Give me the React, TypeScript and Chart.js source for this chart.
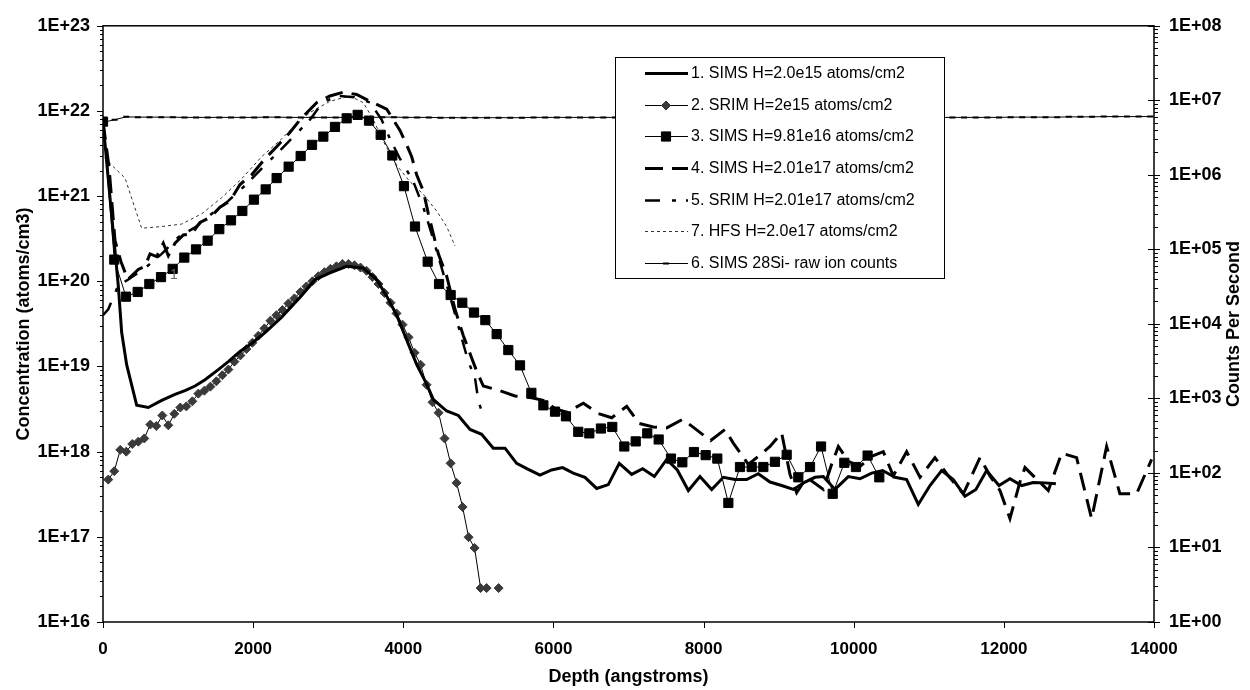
import React, { useEffect, useRef } from 'react';
import { Chart, registerables } from 'chart.js';

Chart.register(...registerables);

// ---------------- DATA ----------------
// 1. SIMS H=2.0e15 atoms/cm2
const DEPTH_S1 = [0, 100, 204, 249, 315, 449, 604, 782, 959, 1092, 1226, 1359, 1536, 1669, 1825, 1980, 2158, 2380, 2647, 2824,
  3024, 3246, 3468, 3646, 3779, 3912, 4045, 4179, 4311, 4400, 4578, 4733, 4889, 5044, 5199, 5355, 5510, 5665, 5821, 5976,
  6122, 6264, 6420, 6576, 6731, 6877, 7042, 7189, 7344, 7509, 7650, 7797, 7952, 8108, 8263, 8419, 8574, 8729, 8885, 9040,
  9195, 9351, 9484, 9595, 9751, 9928, 10084, 10239, 10385, 10550, 10705, 10860, 11016, 11171, 11326, 11482, 11628, 11770, 11935, 12081,
  12237, 12392, 12547, 12693];
const CONC_S1 = [7.5e21, 8.3e20, 8.8e19, 2.5e19, 1.05e19, 3.5e18, 3.3e18, 4.0e18, 4.7e18, 5.2e18, 5.9e18, 7.0e18, 9.2e18, 1.14e19, 1.5e19, 1.86e19, 2.5e19, 3.8e19, 6.8e19, 1.05e20,
  1.26e20, 1.5e20, 1.43e20, 1.05e20, 6.7e19, 4.0e19, 2.05e19, 1.05e19, 6.2e18, 4.1e18, 3.0e18, 2.66e18, 1.82e18, 1.6e18, 1.1e18, 1.1e18, 7.3e17, 6.2e17, 5.3e17, 6.1e17,
  6.5e17, 5.6e17, 5.0e17, 3.7e17, 4.1e17, 7.3e17, 5.4e17, 6.3e17, 5.1e17, 8.1e17, 6.1e17, 3.5e17, 5.1e17, 3.6e17, 5.0e17, 4.7e17, 4.7e17, 5.5e17, 4.4e17, 4.0e17,
  3.6e17, 4.4e17, 5.0e17, 5.1e17, 3.6e17, 5.1e17, 4.8e17, 5.6e17, 6.0e17, 5.0e17, 4.7e17, 2.4e17, 4.0e17, 6.0e17, 4.7e17, 3.0e17, 3.6e17, 6.0e17, 4.0e17, 4.8e17,
  4.0e17, 4.35e17, 4.3e17, 4.2e17];

// 2. SRIM H=2e15 atoms/cm2
const DEPTH_S2 = [70, 150, 230, 310, 390, 470, 550, 630, 710, 790,
  870, 950, 1030, 1110, 1190, 1270, 1350, 1430, 1510, 1590,
  1670, 1750, 1830, 1910, 1990, 2070, 2150, 2230, 2310, 2390,
  2470, 2550, 2630, 2710, 2790, 2870, 2950, 3030, 3110, 3190,
  3270, 3350, 3430, 3510, 3590, 3670, 3750, 3830, 3910, 3990,
  4070, 4150, 4230, 4310, 4390, 4470, 4550, 4630, 4710, 4790,
  4870, 4950, 5030, 5110, 5190, 5270];
const CONC_S2 = [4.7e17, 5.9e17, 1.05e18, 1.0e18, 1.23e18, 1.31e18, 1.43e18, 2.08e18, 2.0e18, 2.66e18,
  2.04e18, 2.78e18, 3.3e18, 3.4e18, 3.9e18, 4.8e18, 5.2e18, 5.8e18, 6.7e18, 7.9e18,
  9.2e18, 1.14e19, 1.35e19, 1.6e19, 1.9e19, 2.3e19, 2.8e19, 3.45e19, 4.0e19, 4.6e19,
  5.5e19, 6.3e19, 7.5e19, 8.7e19, 1.0e20, 1.15e20, 1.28e20, 1.4e20, 1.5e20, 1.6e20,
  1.6e20, 1.54e20, 1.45e20, 1.33e20, 1.12e20, 9.3e19, 7.3e19, 5.6e19, 4.2e19, 3.1e19,
  2.2e19, 1.45e19, 1.05e19, 6.1e18, 3.8e18, 2.86e18, 1.43e18, 7.3e17, 4.3e17, 2.24e17,
  9.9e16, 7.4e16, 2.5e16, 2.5e16, null, 2.5e16];

// 3. SIMS H=9.81e16 atoms/cm2
const DEPTH_S3 = [0, 150, 306, 462, 617, 773, 928, 1083, 1239, 1394, 1549, 1705, 1856, 2011, 2167, 2313, 2473, 2633, 2784, 2935,
  3090, 3246, 3392, 3543, 3699, 3854, 4009, 4156, 4325, 4476, 4631, 4786, 4942, 5093, 5244, 5399, 5555, 5706, 5866, 6021,
  6167, 6331, 6478, 6633, 6784, 6944, 7096, 7250, 7402, 7566, 7717, 7872, 8028, 8183, 8330, 8485, 8641, 8796, 8951, 9107,
  9262, 9418, 9565, 9720, 9875, 10030, 10185, 10341];
const CONC_S3 = [7.5e21, 1.8e20, 6.6e19, 7.5e19, 9.3e19, 1.12e20, 1.4e20, 1.9e20, 2.37e20, 3.0e20, 4.1e20, 5.2e20, 6.7e20, 9.1e20, 1.2e21, 1.63e21, 2.22e21, 2.96e21, 4.0e21, 5.0e21,
  6.5e21, 8.2e21, 9.0e21, 7.7e21, 5.25e21, 3.0e21, 1.31e21, 4.4e20, 1.7e20, 9.3e19, 6.9e19, 5.6e19, 4.3e19, 3.5e19, 2.4e19, 1.56e19, 1.03e19, 4.9e18, 3.5e18, 2.95e18,
  2.6e18, 1.71e18, 1.64e18, 1.87e18, 1.95e18, 1.15e18, 1.32e18, 1.64e18, 1.39e18, 8.3e17, 7.5e17, 9.9e17, 9.1e17, 8.3e17, 2.5e17, 6.6e17, 6.6e17, 6.6e17, 7.6e17, 9.2e17,
  5.0e17, 6.6e17, 1.15e18, 3.2e17, 7.4e17, 6.6e17, 9.0e17, 5.0e17];

// 4. SIMS H=2.01e17 atoms/cm2
const DEPTH_S4 = [0, 80, 160, 240, 330, 470, 560, 626, 715, 803, 870, 959, 1070, 1181, 1292, 1425, 1558, 1692, 1825, 1980,
  2158, 2313, 2490, 2624, 2846, 3024, 3201, 3379, 3556, 3779, 3867, 3956, 4045, 4112, 4178, 4267, 4334, 4400, 4467, 4578,
  4689, 4800, 4911, 4978, 5066, 5288, 5488, 5710, 5865, 6021, 6176, 6398, 6598, 6776, 6976, 7144, 7330, 7509, 7722, 7908,
  8094, 8285, 8396, 8476, 8596, 8729, 8885, 9040, 9151, 9240, 9373, 9595, 9706, 9795, 9928, 10084, 10239, 10394, 10527, 10705,
  10883, 11082, 11260, 11460, 11682, 11815, 11948, 12081, 12214, 12281, 12437, 12592, 12770, 12969, 13169, 13369, 13546, 13768, 13968];
const CONC_S4 = [7.5e21, 2.2e21, 3.0e20, 1.7e20, 1.05e20, 1.38e20, 1.5e20, 2.1e20, 1.95e20, 2.8e20, 2.0e20, 2.8e20, 3.5e20, 3.6e20, 4.9e20, 5.6e20, 7.4e20, 8.8e20, 1.37e21, 1.78e21,
  2.75e21, 3.8e21, 5.6e21, 7.9e21, 1.25e22, 1.5e22, 1.66e22, 1.56e22, 1.3e22, 1.05e22, 7.9e21, 5.9e21, 4.0e21, 2.9e21, 1.78e21, 1.15e21, 6.2e20, 3.6e20, 2.1e20, 1.15e20,
  4.7e19, 2.3e19, 1.26e19, 8.8e18, 5.9e18, 5.2e18, 4.5e18, 4.3e18, 4.0e18, 3.2e18, 2.9e18, 3.7e18, 2.8e18, 2.5e18, 3.4e18, 2.14e18, 1.95e18, 1.9e18, 2.4e18, 1.8e18,
  1.35e18, 1.82e18, 1.26e18, 1.0e18, 7.1e17, 8.8e17, 1.15e18, 1.66e18, 5.4e17, 3.3e17, 5.0e17, 3.6e17, 7.1e17, 1.15e18, 7.7e17, 6.7e17, 8.8e17, 1.0e18, 5.2e17, 1.0e18,
  5.0e17, 8.5e17, 5.2e17, 3.2e17, 8.5e17, 5.2e17, 3.5e17, 1.64e17, 4.4e17, 6.5e17, 4.75e17, 3.5e17, 9.6e17, 8.5e17, 1.64e17, 1.15e18, 3.2e17, 3.2e17, 8.1e17];

// 5. SRIM H=2.01e17 atoms/cm2
const DEPTH_S5 = [0, 70, 200, 337, 560, 782, 1003, 1226, 1448, 1669, 1891, 2113, 2380, 2757, 2930, 3150, 3350, 3556, 3712, 3823,
  3956, 4134, 4267, 4378, 4467, 4622, 4733, 4866, 4955, 4999, 5066];
const CONC_S5 = [4.0e19, 4.7e19, 8.8e19, 1.05e20, 1.43e20, 2.1e20, 3.3e20, 4.3e20, 6.2e20, 8.8e20, 1.33e21, 2.1e21, 3.6e21, 7.9e21, 1.28e22, 1.5e22, 1.45e22, 1.26e22, 7.9e21, 4.7e21,
  2.75e21, 1.48e21, 7.4e20, 3.6e20, 1.95e20, 6.7e19, 3.0e19, 1.14e19, 7.4e18, 4.0e18, 2.57e18];

// 7. HFS H=2.0e17 atoms/cm2
const DEPTH_S7 = [20, 293, 515, 782, 1048, 1315, 1581, 1847, 2113, 2380, 2513, 2757, 3024, 3290, 3468, 3601, 3734, 3912, 4089, 4267,
  4444, 4578, 4689];
const CONC_S7 = [2.8e21, 1.63e21, 4.2e20, 4.4e20, 4.7e20, 6.2e20, 9.6e20, 1.6e21, 2.9e21, 4.7e21, 6.2e21, 9.6e21, 1.3e22, 1.5e22, 1.25e22, 7.9e21, 4.4e21, 2.3e21, 1.48e21, 1.05e21,
  6.7e20, 4.4e20, 2.6e20];

// 6. SIMS 28Si- raw ion counts (right axis, counts per second)
const DEPTH_S6 = [0, 155, 310, 465, 620, 775, 930, 1085, 1240, 1395, 1550, 1705, 1860, 2015, 2170, 2325, 2480, 2635, 2790, 2945,
  3100, 3255, 3410, 3565, 3720, 3875, 4030, 4185, 4340, 4495, 4650, 4805, 4960, 5115, 5270, 5425, 5580, 5735, 5890, 6045,
  6200, 6355, 6510, 6665, 6820, 6975, 7130, 7285, 7440, 7595, 7750, 7905, 8060, 8215, 8370, 8525, 8680, 8835, 8990, 9145,
  9300, 9455, 9610, 9765, 9920, 10075, 10230, 10385, 10540, 10695, 10850, 11005, 11160, 11315, 11470, 11625, 11780, 11935, 12090, 12245,
  12400, 12555, 12710, 12865, 13020, 13175, 13330, 13485, 13640, 13795, 13950];
const CPS_S6 = [5.05e6, 5.5e6, 6.0e6, 5.95e6, 5.95e6, 5.95e6, 5.95e6, 5.9e6, 5.9e6, 5.9e6, 5.9e6, 5.9e6, 5.9e6, 5.9e6, 5.95e6, 5.95e6, 5.9e6, 5.9e6, 5.9e6, 5.9e6,
  5.9e6, 5.9e6, 5.9e6, 5.9e6, 5.95e6, 5.95e6, 5.9e6, 5.9e6, 5.9e6, 5.85e6, 5.85e6, 5.85e6, 5.85e6, 5.85e6, 5.85e6, 5.85e6, 5.85e6, 5.9e6, 5.9e6, 5.9e6,
  5.9e6, 5.9e6, 5.9e6, 5.9e6, 5.9e6, 5.9e6, 5.9e6, 5.9e6, 5.9e6, 5.9e6, 5.9e6, 5.9e6, 5.9e6, 5.9e6, 5.9e6, 5.9e6, 5.9e6, 5.9e6, 5.9e6, 5.9e6,
  5.9e6, 5.9e6, 5.9e6, 5.9e6, 5.9e6, 5.9e6, 5.9e6, 5.9e6, 5.9e6, 5.9e6, 5.9e6, 5.9e6, 5.9e6, 5.9e6, 5.9e6, 5.9e6, 5.9e6, 5.9e6, 5.95e6, 5.95e6,
  5.95e6, 5.95e6, 5.95e6, 6.0e6, 6.0e6, 6.0e6, 6.05e6, 6.05e6, 6.05e6, 6.05e6, 6.05e6];

const LABELS = [
  '1. SIMS H=2.0e15 atoms/cm2',
  '2. SRIM H=2e15 atoms/cm2',
  '3. SIMS H=9.81e16 atoms/cm2',
  '4. SIMS H=2.01e17 atoms/cm2',
  '5. SRIM H=2.01e17 atoms/cm2',
  '7. HFS H=2.0e17 atoms/cm2',
  '6. SIMS 28Si- raw ion counts',
];

const X_TICKS = [0, 2000, 4000, 6000, 8000, 10000, 12000, 14000];
const Y_DECADES = [1e16, 1e17, 1e18, 1e19, 1e20, 1e21, 1e22, 1e23];
const Y2_DECADES = [1, 1e1, 1e2, 1e3, 1e4, 1e5, 1e6, 1e7, 1e8];
const MINOR = [2, 3, 4, 5, 6, 7, 8, 9];

const X_TITLE = 'Depth (angstroms)';
const Y_TITLE = 'Concentration (atoms/cm3)';
const Y2_TITLE = 'Counts Per Second';

// stray data label near series 3
const NOTE = { depth: 773, conc: 1.12e20, text: '1' };

const FONT = '"Liberation Sans", Arial, Helvetica, sans-serif';

const pts = (xs: number[], ys: (number | null)[]) => xs.map((x, i) => ({ x, y: ys[i] }));
const sciLabel = (v: number) => {
  const e = Math.round(Math.log10(v));
  return '1E+' + String(e).padStart(2, '0');
};

const decorPlugin = {
  id: 'decor',
  afterDraw(chart: any) {
    const { ctx, chartArea: a, scales } = chart;
    const xs = scales.x, ys = scales.y, ys2 = scales.y2;
    ctx.save();
    ctx.strokeStyle = '#000';
    ctx.lineWidth = 1.5;
    ctx.setLineDash([]);
    ctx.strokeRect(a.left, a.top, a.right - a.left, a.bottom - a.top);

    ctx.lineWidth = 1;
    ctx.beginPath();
    Y_DECADES.forEach((d, i) => {
      const y = Math.round(ys.getPixelForValue(d)) + 0.5;
      ctx.moveTo(a.left - 6, y); ctx.lineTo(a.left, y);
      if (i < Y_DECADES.length - 1) {
        MINOR.forEach((m) => {
          const yy = Math.round(ys.getPixelForValue(d * m)) + 0.5;
          ctx.moveTo(a.left - 3, yy); ctx.lineTo(a.left, yy);
        });
      }
    });
    Y2_DECADES.forEach((d, i) => {
      const y = Math.round(ys2.getPixelForValue(d)) + 0.5;
      ctx.moveTo(a.right - 6, y); ctx.lineTo(a.right + 6, y);
      if (i < Y2_DECADES.length - 1) {
        MINOR.forEach((m) => {
          const yy = Math.round(ys2.getPixelForValue(d * m)) + 0.5;
          ctx.moveTo(a.right, yy); ctx.lineTo(a.right + 4, yy);
        });
      }
    });
    X_TICKS.forEach((v) => {
      const x = Math.round(xs.getPixelForValue(v)) + 0.5;
      ctx.moveTo(x, a.bottom); ctx.lineTo(x, a.bottom + 6);
    });
    ctx.stroke();

    // axis titles
    ctx.fillStyle = '#000';
    ctx.font = `bold 18px ${FONT}`;
    ctx.textAlign = 'center';
    ctx.textBaseline = 'middle';
    ctx.fillText(X_TITLE, (a.left + a.right) / 2, 677);
    ctx.save();
    ctx.translate(24, (a.top + a.bottom) / 2);
    ctx.rotate(-Math.PI / 2);
    ctx.fillText(Y_TITLE, 0, 0);
    ctx.restore();
    ctx.save();
    ctx.translate(1234, (a.top + a.bottom) / 2);
    ctx.rotate(-Math.PI / 2);
    ctx.fillText(Y2_TITLE, 0, 0);
    ctx.restore();

    // stray label
    ctx.fillStyle = '#666';
    ctx.font = `14px ${FONT}`;
    ctx.textAlign = 'left';
    ctx.fillText(NOTE.text, xs.getPixelForValue(NOTE.depth) + 9, ys.getPixelForValue(NOTE.conc) - 2);

    // legend
    const L = 615, T = 57, R = 944, B = 278;
    ctx.fillStyle = '#fff';
    ctx.fillRect(L, T, R - L, B - T);
    ctx.strokeStyle = '#000';
    ctx.lineWidth = 1;
    ctx.strokeRect(L + 0.5, T + 0.5, R - L, B - T);
    const dsets = chart.data.datasets;
    const rowH = (263 - 73) / (dsets.length - 1);
    dsets.forEach((ds: any, i: number) => {
      const y = Math.round(73 + i * rowH) + 0.5;
      ctx.save();
      ctx.strokeStyle = ds.borderColor;
      ctx.lineWidth = ds.borderWidth;
      ctx.setLineDash(ds.borderDash || []);
      ctx.beginPath();
      ctx.moveTo(645, y); ctx.lineTo(688, y);
      ctx.stroke();
      ctx.setLineDash([]);
      const r = ds.pointRadius || 0;
      const cx = 666;
      if (r > 0) {
        ctx.fillStyle = ds.pointBackgroundColor;
        ctx.strokeStyle = ds.pointBorderColor;
        ctx.lineWidth = ds.pointBorderWidth;
        ctx.beginPath();
        if (ds.pointStyle === 'rectRot') {
          ctx.moveTo(cx - r, y); ctx.lineTo(cx, y - r); ctx.lineTo(cx + r, y); ctx.lineTo(cx, y + r); ctx.closePath();
          ctx.fill(); ctx.stroke();
        } else if (ds.pointStyle === 'rect') {
          const s = r * Math.SQRT1_2;
          ctx.rect(cx - s, y - s, 2 * s, 2 * s);
          ctx.fill(); ctx.stroke();
        } else if (ds.pointStyle === 'line') {
          ctx.moveTo(cx - r, y); ctx.lineTo(cx + r, y);
          ctx.stroke();
        }
      }
      ctx.restore();
      ctx.fillStyle = '#000';
      ctx.font = `16px ${FONT}`;
      ctx.textAlign = 'left';
      ctx.textBaseline = 'middle';
      ctx.fillText(ds.label, 691, y);
    });
    ctx.restore();
  },
};

export default function App() {
  const ref = useRef<HTMLCanvasElement>(null);
  useEffect(() => {
    const canvas = ref.current;
    if (!canvas) return;
    const xFont = { family: FONT, size: 17, weight: 'bold' as const };
    const yFont = { family: FONT, size: 18, weight: 'bold' as const };
    const chart = new Chart(canvas, {
      type: 'line',
      data: {
        datasets: [
          {
            label: LABELS[0], data: pts(DEPTH_S1, CONC_S1), yAxisID: 'y',
            borderColor: '#000', borderWidth: 3, pointRadius: 0, tension: 0,
          },
          {
            label: LABELS[1], data: pts(DEPTH_S2, CONC_S2), yAxisID: 'y',
            borderColor: '#000', borderWidth: 1, pointRadius: 4.5, pointStyle: 'rectRot',
            pointBackgroundColor: '#3a3a3a', pointBorderColor: '#3a3a3a', pointBorderWidth: 1, tension: 0,
          },
          {
            label: LABELS[2], data: pts(DEPTH_S3, CONC_S3), yAxisID: 'y',
            borderColor: '#000', borderWidth: 1, pointRadius: 6.5, pointStyle: 'rect',
            pointBackgroundColor: '#000', pointBorderColor: '#000', pointBorderWidth: 1, tension: 0,
          },
          {
            label: LABELS[3], data: pts(DEPTH_S4, CONC_S4), yAxisID: 'y',
            borderColor: '#000', borderWidth: 3, borderDash: [18, 9], pointRadius: 0, tension: 0,
          },
          {
            label: LABELS[4], data: pts(DEPTH_S5, CONC_S5), yAxisID: 'y',
            borderColor: '#000', borderWidth: 2.5, borderDash: [15, 12, 4, 10], pointRadius: 0, tension: 0,
          },
          {
            label: LABELS[5], data: pts(DEPTH_S7, CONC_S7), yAxisID: 'y',
            borderColor: '#333', borderWidth: 1, borderDash: [3, 3], pointRadius: 0, tension: 0,
          },
          {
            label: LABELS[6], data: pts(DEPTH_S6, CPS_S6), yAxisID: 'y2',
            borderColor: '#000', borderWidth: 1, pointRadius: 3, pointStyle: 'line',
            pointBorderColor: '#000', pointBackgroundColor: '#000', pointBorderWidth: 2, tension: 0,
          },
        ] as any,
      },
      options: {
        responsive: false,
        animation: false,
        devicePixelRatio: 1,
        events: [],
        layout: { padding: { top: 15, left: 0, right: 0, bottom: 0 } },
        plugins: { legend: { display: false }, tooltip: { enabled: false }, title: { display: false } },
        scales: {
          x: {
            type: 'linear', position: 'bottom', min: 0, max: 14000,
            afterBuildTicks: (s: any) => { s.ticks = X_TICKS.map((v) => ({ value: v })); },
            afterFit: (s: any) => { s.height = 68; },
            grid: { display: false, drawTicks: false },
            border: { display: false },
            ticks: { font: xFont, color: '#000', padding: 17, maxRotation: 0, autoSkip: false, callback: (v: any) => String(v) },
          },
          y: {
            type: 'logarithmic', position: 'left', min: 1e16, max: 1e23,
            afterBuildTicks: (s: any) => { s.ticks = Y_DECADES.map((v) => ({ value: v })); },
            afterFit: (s: any) => { s.width = 103; },
            grid: { display: false, drawTicks: false },
            border: { display: false },
            ticks: { font: yFont, color: '#000', padding: 13, autoSkip: false, callback: (v: any) => sciLabel(Number(v)) },
          },
          y2: {
            type: 'logarithmic', position: 'right', min: 1, max: 1e8,
            afterBuildTicks: (s: any) => { s.ticks = Y2_DECADES.map((v) => ({ value: v })); },
            afterFit: (s: any) => { s.width = 96; },
            grid: { display: false, drawTicks: false },
            border: { display: false },
            ticks: { font: yFont, color: '#000', padding: 15, autoSkip: false, callback: (v: any) => sciLabel(Number(v)) },
          },
        },
      } as any,
      plugins: [decorPlugin],
    });
    return () => chart.destroy();
  }, []);

  return (
    <div style={{ position: 'absolute', left: 0, top: 0, width: 1250, height: 690, background: '#fff' }}>
      <canvas ref={ref} width={1250} height={690} style={{ display: 'block' }} />
    </div>
  );
}
